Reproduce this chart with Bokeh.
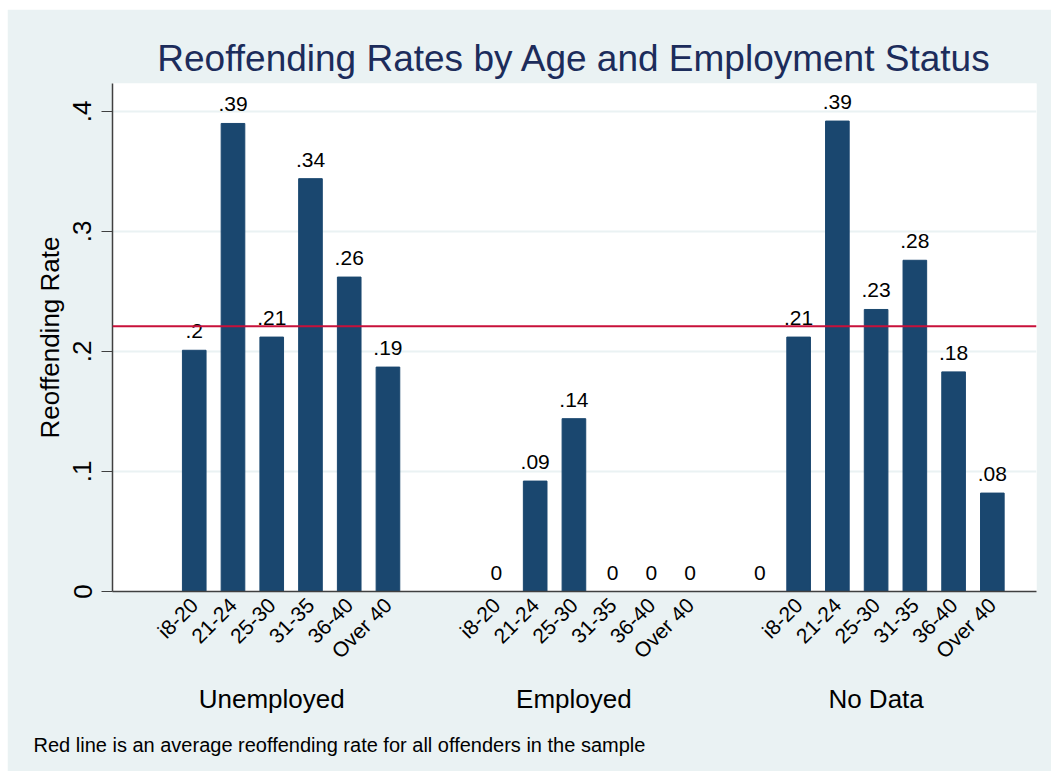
from bokeh.plotting import figure
from bokeh.models import Range1d, FixedTicker, LinearAxis, Span, Title, CustomJSTickFormatter, ColumnDataSource
from bokeh.embed import file_html
from bokeh.resources import INLINE

# ---- data ----
employment = ["Unemployed", "Employed", "No Data"]
age_groups = ["", "i8-20", "21-24", "25-30", "31-35", "36-40", "Over 40"]
unemployed_rate = [None, 0.201, 0.390, 0.212, 0.344, 0.262, 0.187]
employed_rate = [None, 0.0, 0.092, 0.144, 0.0, 0.0, 0.0]
nodata_rate = [0.0, 0.212, 0.392, 0.235, 0.276, 0.183, 0.082]
average_rate = 0.221
title_text = "Reoffending Rates by Age and Employment Status"
y_title = "Reoffending Rate"
note_text = "Red line is an average reoffending rate for all offenders in the sample"

# ---- layout constants ----
SLOT = 10
STRIDE = 78
FONT = "Liberation Sans"
BG = "#EAF2F3"
BAR = "#1A476F"


def fmt(v):
    s = f"{v:.2f}".rstrip("0").rstrip(".")
    if s.startswith("0."):
        s = s[1:]
    return s


series = [unemployed_rate, employed_rate, nodata_rate]
xs, tops, labels = [], [], []
tick_pos, tick_lab = [], {}
for g, vals in enumerate(series):
    for k, v in enumerate(vals):
        if v is None:
            continue
        x = g * STRIDE + k * SLOT
        xs.append(x)
        tops.append(v)
        labels.append(fmt(v))
        tick_pos.append(x)
        tick_lab[x] = age_groups[k]

src = ColumnDataSource(dict(x=xs, top=tops, label=labels))

p = figure(width=1044, height=762, output_backend="svg", toolbar_location=None,
           x_range=Range1d(-11.1, 2 * STRIDE + 6 * SLOT + 11.4),
           y_range=Range1d(0, 0.4233),
           min_border_left=105, min_border_right=15, min_border_top=74, min_border_bottom=180,
           background_fill_color="white", border_fill_color=BG, outline_line_color=None)
p.margin = (9, 0, 0, 7)

p.title.text = title_text
p.title.align = "center"
p.title.text_font = FONT
p.title.text_font_size = "37px"
p.title.text_font_style = "normal"
p.title.text_color = "#1C2C5B"
p.title.standoff = 10

p.vbar(x="x", top="top", width=6.1, source=src, fill_color=BAR, line_color=BAR)
p.text(x="x", y="top", text="label", source=src, text_align="center", text_baseline="bottom",
       y_offset=-12, text_font_size="21px", text_color="black", text_font={"value": FONT})

p.add_layout(Span(location=average_rate, dimension="width", line_color="#C8103A", line_width=2))

# y axis
yax = p.yaxis[0]
yax.ticker = FixedTicker(ticks=[0, 0.1, 0.2, 0.3, 0.4])
yax.formatter = CustomJSTickFormatter(code="return tick == 0 ? '0' : tick.toFixed(1).replace(/^0/, '');")
yax.major_label_orientation = "vertical"
yax.major_label_text_font = FONT
yax.major_label_text_font_size = "26px"
yax.major_label_text_color = "black"
yax.major_label_standoff = 10
yax.major_tick_out = 11
yax.major_tick_in = 0
yax.minor_tick_line_color = None
yax.axis_line_color = "#404040"
yax.major_tick_line_color = "#404040"
yax.axis_line_width = 1.5
yax.axis_label = y_title
yax.axis_label_text_font = FONT
yax.axis_label_text_font_size = "26px"
yax.axis_label_text_font_style = "normal"
yax.axis_label_text_color = "black"
yax.axis_label_standoff = 6

p.xgrid.visible = False
p.ygrid.ticker = FixedTicker(ticks=[0.1, 0.2, 0.3, 0.4])
p.ygrid.grid_line_color = BG
p.ygrid.grid_line_width = 2

# x axis (age groups)
xax = p.xaxis[0]
xax.ticker = FixedTicker(ticks=tick_pos)
xax.major_label_overrides = tick_lab
xax.major_label_orientation = 0.785398
xax.major_label_text_font = FONT
xax.major_label_text_font_size = "21px"
xax.major_label_text_color = "black"
xax.major_label_standoff = 4
xax.major_tick_line_color = None
xax.minor_tick_line_color = None
xax.axis_line_color = "#404040"
xax.axis_line_width = 1.5

# group axis
gpos = [g * STRIDE + 3 * SLOT for g in range(len(employment))]
gax = LinearAxis(ticker=FixedTicker(ticks=gpos),
                 major_label_overrides={gp: name for gp, name in zip(gpos, employment)})
gax.axis_line_color = None
gax.major_tick_line_color = None
gax.minor_tick_line_color = None
gax.major_label_text_font = FONT
gax.major_label_text_font_size = "26px"
gax.major_label_text_color = "black"
gax.major_label_standoff = 4
p.add_layout(gax, "below")

note = Title(text=note_text, align="left", text_font=FONT, text_font_size="20px",
             text_font_style="normal", text_color="black", offset=-79, standoff=30)
p.add_layout(note, "below")

open("out.html", "w").write(file_html(p, INLINE))
